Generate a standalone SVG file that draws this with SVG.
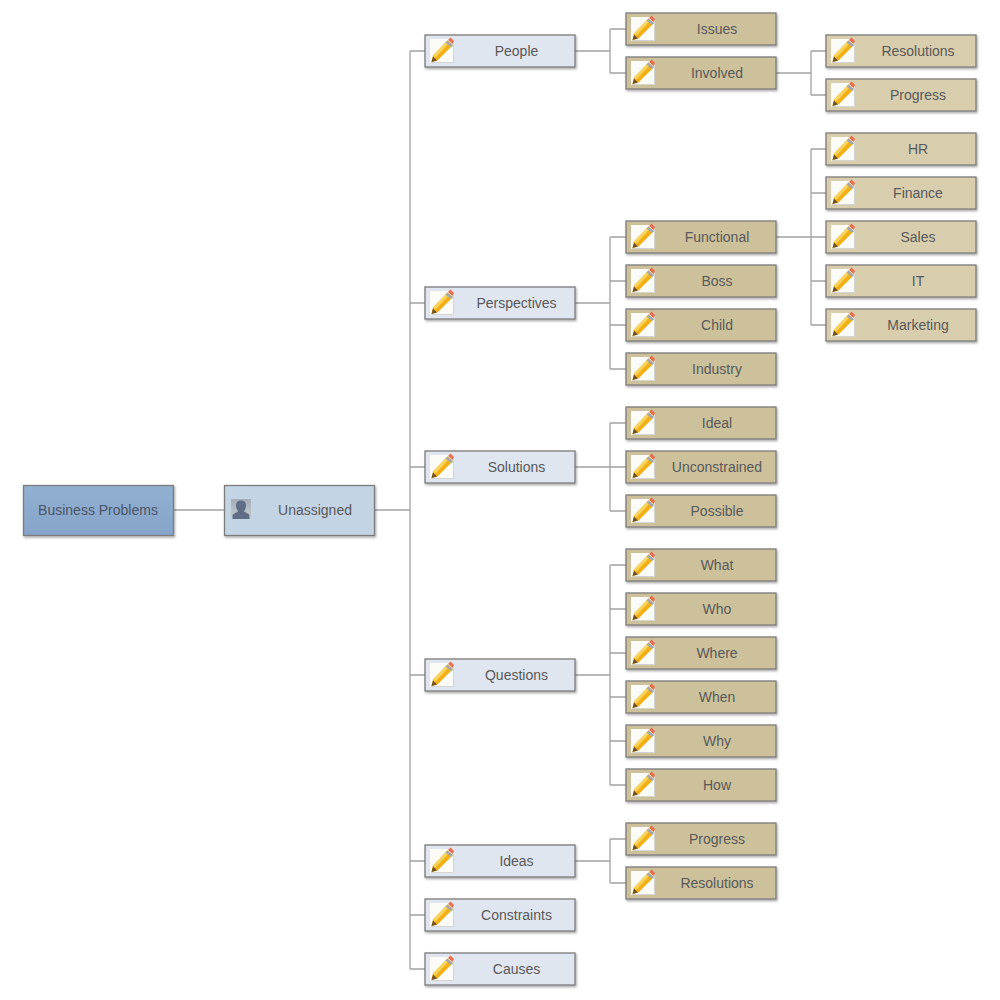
<svg xmlns="http://www.w3.org/2000/svg" xmlns:xlink="http://www.w3.org/1999/xlink" width="1000" height="1000" viewBox="0 0 1000 1000">
<style>
text{font-family:"Liberation Sans",Arial,sans-serif;font-size:14px;text-anchor:middle;fill:#595959}
.b{stroke:#7c7c7c;stroke-width:1.3;filter:url(#sh)}
.l2{fill:#e0e6f0}.l3{fill:#cdc19c}.l4{fill:#d8ceae}
#conn path{fill:none;stroke:#a3a3a3;stroke-width:1.3}
</style>
<defs>
<filter id="sh" x="-5%" y="-15%" width="110%" height="135%"><feDropShadow dx="1" dy="1.500" stdDeviation="1" flood-color="#000" flood-opacity=".35"/></filter>
<linearGradient id="root" x1="0" y1="0" x2="0" y2="1"><stop offset="0" stop-color="#92b0d0"/><stop offset="1" stop-color="#86a4ca"/></linearGradient>
<linearGradient id="man" x1="0" y1="0" x2="0" y2="1"><stop offset="0" stop-color="#a4adb8"/><stop offset="1" stop-color="#c4ccd4"/></linearGradient>
<g id="pen">
<path d="M0 0H19L24 5V24H0Z" fill="#fbfbf8"/>
<path d="M23.500 5V23.500H1" fill="none" stroke="#d4d4d0"/>
<path d="M1.500 23L3 16.500L17.500 1.500L23 6L7.500 21.500Z" fill="#f2b015"/>
<path d="M3 16.500L17.500 1.500L19.500 3.500L5 19Z" fill="#f9d35c"/>
<path d="M1.500 23L3 17.500L7 21.500Z" fill="#6e5226"/>
<path d="M18 1L20.500 -1.500L24 2L22.500 5Z" fill="#e8704f"/>
<path d="M17.500 1.500L19.500 3.500L23 6L21 8L15.500 3.500Z" fill="#a2a7ad"/>
</g>
</defs>
<g id="conn">
<path d="M174 510H224M375 510H410M410 51V969M410 51H425M410 303H425M410 467H425M410 675H425M410 861H425M410 915H425M410 969H425"/>
<path d="M575 51H610M610 29V73M610 29H626M610 73H626"/>
<path d="M776 73H811M811 51V95M811 51H826M811 95H826"/>
<path d="M575 303H610M610 237V369M610 237H626M610 281H626M610 325H626M610 369H626"/>
<path d="M776 237H811M811 149V325M811 149H826M811 193H826M811 237H826M811 281H826M811 325H826"/>
<path d="M575 467H610M610 423V511M610 423H626M610 467H626M610 511H626"/>
<path d="M575 675H610M610 565V785M610 565H626M610 609H626M610 653H626M610 697H626M610 741H626M610 785H626"/>
<path d="M575 861H610M610 839V883M610 839H626M610 883H626"/>
</g>
<g id="n-root"><rect class="b" x="23.500" y="485.500" width="150" height="50" fill="url(#root)"/><text x="98" y="515.300" style="fill:#4a5568">Business Problems</text></g>
<g id="n-unassigned"><rect class="b" x="224.500" y="485.500" width="150" height="50" fill="#c3d4e5"/><rect x="231" y="499" width="20" height="20" fill="url(#man)"/><path d="M232.500 519V516C232.500 513 237 513 238 511C236 509 236 506 236 505C236 502 238 500.500 241 500.500C244 500.500 246 502 246 505C246 506 246 509 244 511C245 513 249.500 513 249.500 516V519Z" fill="#5f6e84"/><text x="315" y="515.300">Unassigned</text></g>
<g id="n-people"><rect class="b l2" x="425" y="35" width="150" height="32"/><use xlink:href="#pen" x="430" y="39"/><text x="516.500" y="56.300">People</text></g>
<g id="n-perspectives"><rect class="b l2" x="425" y="287" width="150" height="32"/><use xlink:href="#pen" x="430" y="291"/><text x="516.500" y="308.300">Perspectives</text></g>
<g id="n-solutions"><rect class="b l2" x="425" y="451" width="150" height="32"/><use xlink:href="#pen" x="430" y="455"/><text x="516.500" y="472.300">Solutions</text></g>
<g id="n-questions"><rect class="b l2" x="425" y="659" width="150" height="32"/><use xlink:href="#pen" x="430" y="663"/><text x="516.500" y="680.300">Questions</text></g>
<g id="n-ideas"><rect class="b l2" x="425" y="845" width="150" height="32"/><use xlink:href="#pen" x="430" y="849"/><text x="516.500" y="866.300">Ideas</text></g>
<g id="n-constraints"><rect class="b l2" x="425" y="899" width="150" height="32"/><use xlink:href="#pen" x="430" y="903"/><text x="516.500" y="920.300">Constraints</text></g>
<g id="n-causes"><rect class="b l2" x="425" y="953" width="150" height="32"/><use xlink:href="#pen" x="430" y="957"/><text x="516.500" y="974.300">Causes</text></g>
<g id="n-issues"><rect class="b l3" x="626" y="13" width="150" height="32"/><use xlink:href="#pen" x="631" y="17"/><text x="717" y="34.300">Issues</text></g>
<g id="n-involved"><rect class="b l3" x="626" y="57" width="150" height="32"/><use xlink:href="#pen" x="631" y="61"/><text x="717" y="78.300">Involved</text></g>
<g id="n-functional"><rect class="b l3" x="626" y="221" width="150" height="32"/><use xlink:href="#pen" x="631" y="225"/><text x="717" y="242.300">Functional</text></g>
<g id="n-boss"><rect class="b l3" x="626" y="265" width="150" height="32"/><use xlink:href="#pen" x="631" y="269"/><text x="717" y="286.300">Boss</text></g>
<g id="n-child"><rect class="b l3" x="626" y="309" width="150" height="32"/><use xlink:href="#pen" x="631" y="313"/><text x="717" y="330.300">Child</text></g>
<g id="n-industry"><rect class="b l3" x="626" y="353" width="150" height="32"/><use xlink:href="#pen" x="631" y="357"/><text x="717" y="374.300">Industry</text></g>
<g id="n-ideal"><rect class="b l3" x="626" y="407" width="150" height="32"/><use xlink:href="#pen" x="631" y="411"/><text x="717" y="428.300">Ideal</text></g>
<g id="n-unconstrained"><rect class="b l3" x="626" y="451" width="150" height="32"/><use xlink:href="#pen" x="631" y="455"/><text x="717" y="472.300">Unconstrained</text></g>
<g id="n-possible"><rect class="b l3" x="626" y="495" width="150" height="32"/><use xlink:href="#pen" x="631" y="499"/><text x="717" y="516.300">Possible</text></g>
<g id="n-what"><rect class="b l3" x="626" y="549" width="150" height="32"/><use xlink:href="#pen" x="631" y="553"/><text x="717" y="570.300">What</text></g>
<g id="n-who"><rect class="b l3" x="626" y="593" width="150" height="32"/><use xlink:href="#pen" x="631" y="597"/><text x="717" y="614.300">Who</text></g>
<g id="n-where"><rect class="b l3" x="626" y="637" width="150" height="32"/><use xlink:href="#pen" x="631" y="641"/><text x="717" y="658.300">Where</text></g>
<g id="n-when"><rect class="b l3" x="626" y="681" width="150" height="32"/><use xlink:href="#pen" x="631" y="685"/><text x="717" y="702.300">When</text></g>
<g id="n-why"><rect class="b l3" x="626" y="725" width="150" height="32"/><use xlink:href="#pen" x="631" y="729"/><text x="717" y="746.300">Why</text></g>
<g id="n-how"><rect class="b l3" x="626" y="769" width="150" height="32"/><use xlink:href="#pen" x="631" y="773"/><text x="717" y="790.300">How</text></g>
<g id="n-progress"><rect class="b l3" x="626" y="823" width="150" height="32"/><use xlink:href="#pen" x="631" y="827"/><text x="717" y="844.300">Progress</text></g>
<g id="n-resolutions"><rect class="b l3" x="626" y="867" width="150" height="32"/><use xlink:href="#pen" x="631" y="871"/><text x="717" y="888.300">Resolutions</text></g>
<g id="n-resolutions2"><rect class="b l4" x="826" y="35" width="150" height="32"/><use xlink:href="#pen" x="831" y="39"/><text x="918" y="56.300">Resolutions</text></g>
<g id="n-progress2"><rect class="b l4" x="826" y="79" width="150" height="32"/><use xlink:href="#pen" x="831" y="83"/><text x="918" y="100.300">Progress</text></g>
<g id="n-hr"><rect class="b l4" x="826" y="133" width="150" height="32"/><use xlink:href="#pen" x="831" y="137"/><text x="918" y="154.300">HR</text></g>
<g id="n-finance"><rect class="b l4" x="826" y="177" width="150" height="32"/><use xlink:href="#pen" x="831" y="181"/><text x="918" y="198.300">Finance</text></g>
<g id="n-sales"><rect class="b l4" x="826" y="221" width="150" height="32"/><use xlink:href="#pen" x="831" y="225"/><text x="918" y="242.300">Sales</text></g>
<g id="n-it"><rect class="b l4" x="826" y="265" width="150" height="32"/><use xlink:href="#pen" x="831" y="269"/><text x="918" y="286.300">IT</text></g>
<g id="n-marketing"><rect class="b l4" x="826" y="309" width="150" height="32"/><use xlink:href="#pen" x="831" y="313"/><text x="918" y="330.300">Marketing</text></g>
</svg>
